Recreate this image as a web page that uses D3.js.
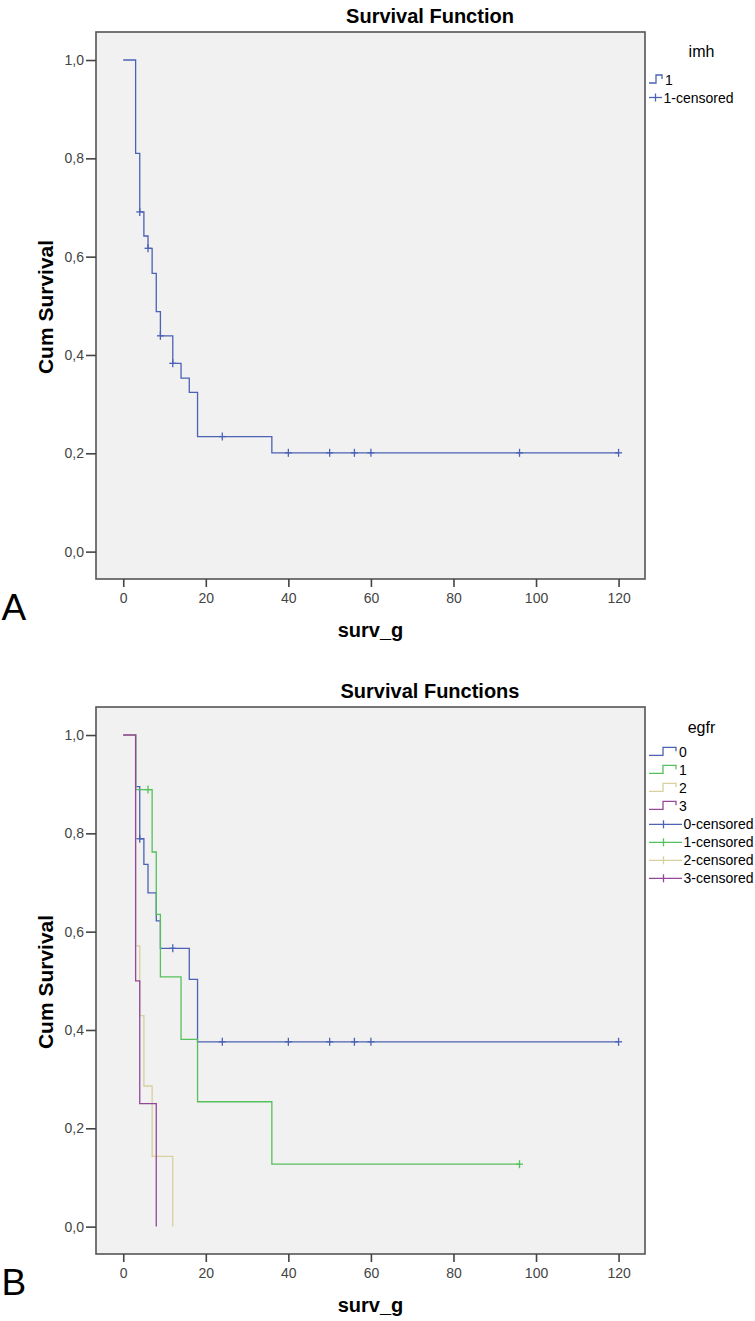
<!DOCTYPE html>
<html>
<head>
<meta charset="utf-8">
<script src="https://cdn.jsdelivr.net/npm/d3@7/dist/d3.min.js"></script>
<style>
  html, body { margin: 0; padding: 0; background: #fff; }
  svg { display: block; }
  text { font-family: "Liberation Sans", Arial, sans-serif; }
</style>
</head>
<body>
<svg id="chart" width="755" height="1321"></svg>
<script>
// ---------- DATA ----------
const xTicks = [0, 20, 40, 60, 80, 100, 120];
const yTicks = [0, 0.2, 0.4, 0.6, 0.8, 1.0];
const yTickLabels = ["0,0", "0,2", "0,4", "0,6", "0,8", "1,0"];

// Panel A: imh = 1
const imh1Times  = [0, 3, 4, 5, 6, 7, 8, 9, 12, 14, 16, 18, 36];
const imh1Surv   = [1.0, 0.81, 0.691, 0.642, 0.617, 0.566, 0.488, 0.439, 0.383, 0.353, 0.324, 0.234, 0.201];
const imh1Censor = [4, 6, 9, 12, 24, 40, 50, 56, 60, 96, 120];
const imh1End    = 120;

// Panel B: egfr groups
const egfr0Times  = [0, 3, 4, 5, 6, 8, 9, 16, 18];
const egfr0Surv   = [1.0, 0.895, 0.789, 0.737, 0.679, 0.622, 0.566, 0.503, 0.376];
const egfr0Censor = [4, 12, 24, 40, 50, 56, 60, 120];
const egfr0End    = 120;

const egfr1Times  = [0, 3, 7, 8, 9, 14, 18, 36];
const egfr1Surv   = [1.0, 0.889, 0.762, 0.635, 0.508, 0.381, 0.254, 0.127];
const egfr1Censor = [6, 96];
const egfr1End    = 96;

const egfr2Times  = [0, 3, 4, 5, 7, 12];
const egfr2Surv   = [1.0, 0.571, 0.429, 0.286, 0.143, 0.0];
const egfr2Censor = [];
const egfr2End    = 12;

const egfr3Times  = [0, 3, 4, 8];
const egfr3Surv   = [1.0, 0.5, 0.25, 0.0];
const egfr3Censor = [];
const egfr3End    = 8;

const legendLabelsA = ["1", "1-censored"];
const legendLabelsB = ["0", "1", "2", "3", "0-censored", "1-censored", "2-censored", "3-censored"];

// ---------- STYLE ----------
const colors = ["#4b62b5", "#55c05c", "#d6d19e", "#94479a"];

const svg = d3.select("#chart");

function drawPanel(cfg) {
  const oy = cfg.oy;
  const g = svg.append("g").attr("transform", `translate(0,${oy})`);
  const x = d3.scaleLinear().domain([-6.6, 126.4]).range([96, 645]);
  const y = d3.scaleLinear().domain([-0.0557, 1.057]).range([579, 32]);

  // plot background & frame
  g.append("rect").attr("x", 96).attr("y", 32).attr("width", 549).attr("height", 547)
    .attr("fill", "#f1f1f1").attr("stroke", "#555").attr("stroke-width", 1.6);

  // axes
  const xa = g.append("g").attr("transform", "translate(0,579)")
    .call(d3.axisBottom(x).tickValues(xTicks).tickSize(8).tickPadding(6).tickFormat(d3.format("d")));
  const ya = g.append("g").attr("transform", "translate(96,0)")
    .call(d3.axisLeft(y).tickValues(yTicks).tickSize(10).tickPadding(2)
      .tickFormat((d, i) => yTickLabels[i]));
  [xa, ya].forEach(a => {
    a.select(".domain").remove();
    a.selectAll(".tick line").attr("stroke", "#444").attr("stroke-width", 1.6);
    a.selectAll(".tick text").attr("fill", "#444").style("font-size", "14px")
      .style("font-family", "'Liberation Sans', Arial, sans-serif");
  });

  // titles
  g.append("text").attr("x", 430).attr("y", 22.5).attr("text-anchor", "middle")
    .style("font-size", "20px").style("font-weight", "bold").text(cfg.title);
  g.append("text").attr("x", 370.5).attr("y", 637).attr("text-anchor", "middle")
    .style("font-size", "20px").style("font-weight", "bold").text("surv_g");
  g.append("text").attr("transform", "translate(53,307) rotate(-90)").attr("text-anchor", "middle")
    .style("font-size", "21px").style("font-weight", "bold").text("Cum Survival");
  g.append("text").attr("x", 1.5).attr("y", 620)
    .style("font-size", "37px").text(cfg.letter);

  // curves
  const line = d3.line().x(d => x(d[0])).y(d => y(d[1])).curve(d3.curveStepAfter);
  cfg.series.forEach(s => {
    const pts = s.times.map((t, i) => [t, s.surv[i]]);
    pts.push([s.end, s.surv[s.surv.length - 1]]);
    g.append("path").attr("d", line(pts)).attr("fill", "none")
      .attr("stroke", s.color).attr("stroke-width", 1.3);
    const marks = g.append("g").attr("stroke", s.color).attr("stroke-width", 1.3);
    s.censor.forEach(t => {
      const idx = d3.bisectRight(s.times, t) - 1;
      const cx = x(t), cy = y(s.surv[idx]);
      marks.append("line").attr("x1", cx).attr("x2", cx).attr("y1", cy - 4).attr("y2", cy + 4);
      marks.append("line").attr("x1", cx - 3.5).attr("x2", cx + 3.5).attr("y1", cy).attr("y2", cy);
    });
  });

  // legend
  const L = cfg.legend;
  g.append("text").attr("x", 701.5).attr("y", L.titleY).attr("text-anchor", "middle")
    .style("font-size", "16px").text(L.title);
  L.labels.forEach((lab, i) => {
    const by = L.firstY + i * L.step;
    const col = colors[L.colorIdx[i]];
    const isCens = lab.indexOf("censored") >= 0;
    if (!isCens) {
      const p = d3.path();
      p.moveTo(649, by - 2); p.lineTo(L.stepMid, by - 2); p.lineTo(L.stepMid, by - 10);
      p.lineTo(L.stepEnd, by - 10); p.lineTo(L.stepEnd, by - 6);
      g.append("path").attr("d", p.toString()).attr("fill", "none").attr("stroke", col).attr("stroke-width", 1.3);
      g.append("text").attr("x", L.stepEnd + 3).attr("y", by).style("font-size", "14px").text(lab);
    } else {
      const cy = by - 5;
      g.append("line").attr("x1", 649).attr("x2", L.censEnd).attr("y1", cy).attr("y2", cy)
        .attr("stroke", col).attr("stroke-width", 1.3);
      g.append("line").attr("x1", L.censMid).attr("x2", L.censMid).attr("y1", cy - 4).attr("y2", cy + 4)
        .attr("stroke", col).attr("stroke-width", 1.3);
      g.append("text").attr("x", L.censEnd + 1.5).attr("y", by).style("font-size", "14px").text(lab);
    }
  });
}

drawPanel({
  oy: 0, title: "Survival Function", letter: "A",
  series: [{ times: imh1Times, surv: imh1Surv, censor: imh1Censor, end: imh1End, color: colors[0] }],
  legend: { title: "imh", titleY: 56.5, firstY: 85, step: 17.5, labels: legendLabelsA, colorIdx: [0, 0],
            stepMid: 656, stepEnd: 662, censMid: 655.5, censEnd: 662 }
});

drawPanel({
  oy: 675, title: "Survival Functions", letter: "B",
  series: [
    { times: egfr0Times, surv: egfr0Surv, censor: egfr0Censor, end: egfr0End, color: colors[0] },
    { times: egfr1Times, surv: egfr1Surv, censor: egfr1Censor, end: egfr1End, color: colors[1] },
    { times: egfr2Times, surv: egfr2Surv, censor: egfr2Censor, end: egfr2End, color: colors[2] },
    { times: egfr3Times, surv: egfr3Surv, censor: egfr3Censor, end: egfr3End, color: colors[3] }
  ],
  legend: { title: "egfr", titleY: 58, firstY: 82.3, step: 18, labels: legendLabelsB,
            colorIdx: [0, 1, 2, 3, 0, 1, 2, 3],
            stepMid: 663, stepEnd: 676, censMid: 663.5, censEnd: 682 }
});
</script>
</body>
</html>
